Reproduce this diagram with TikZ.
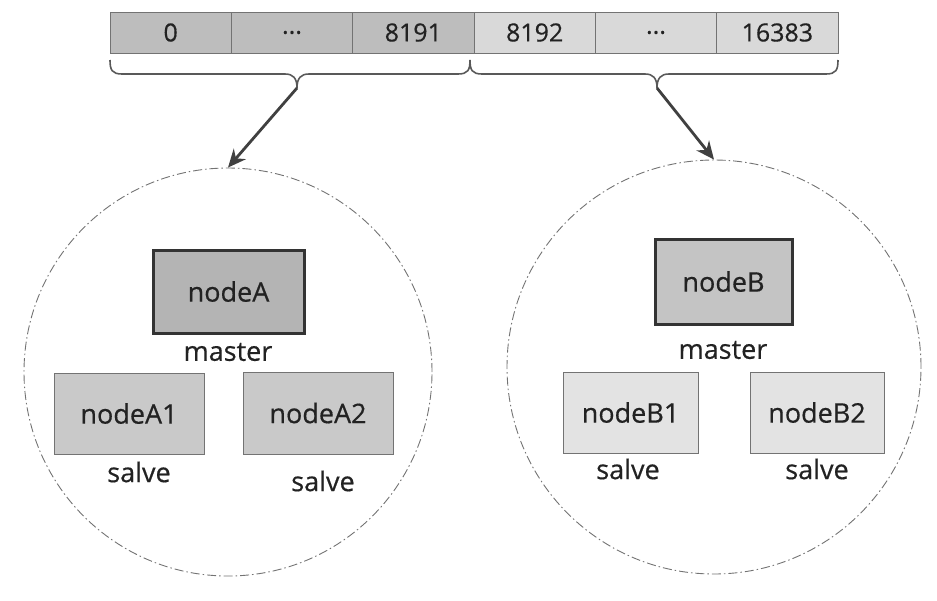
\documentclass[tikz,border=0pt]{standalone}
\usepackage{fontspec}
\setmainfont{Open Sans}
\newfontfamily\lblfont{Open Sans}[FakeBold=0.5]
\usetikzlibrary{arrows.meta}
\definecolor{txt}{HTML}{222222}
\definecolor{cellL}{HTML}{BDBDBD}
\definecolor{cellR}{HTML}{D9D9D9}
\definecolor{mfill}{HTML}{B4B4B4}
\definecolor{mfillB}{HTML}{C4C4C4}
\definecolor{sfillA}{HTML}{C9C9C9}
\definecolor{sfillB}{HTML}{E3E3E3}
\tikzset{
  cell/.style={draw=black!55, line width=0.8pt, minimum width=121.33pt, minimum height=41pt, inner sep=0pt, outer sep=0pt, font=\lblfont\fontsize{25}{27}\selectfont, text=txt},
  masterbox/.style={draw=black!80, line width=3pt, inner sep=0pt, text=txt, font=\lblfont\fontsize{27}{29}\selectfont},
  slavebox/.style={draw=black!55, line width=0.9pt, inner sep=0pt, text=txt, font=\lblfont\fontsize{27}{29}\selectfont},
  lbl/.style={text=txt, font=\lblfont\fontsize{27}{29}\selectfont, inner sep=0pt},
  bracestyle/.style={draw=black!65, line width=1.6pt},
  grp/.style={circle, draw=black!55, line width=0.9pt, dash pattern=on 9pt off 3pt on 1.5pt off 3pt, minimum size=408pt, inner sep=0pt},
  bigarrow/.style={draw=black!75, line width=2.8pt, -{Stealth[length=18pt,width=16pt]}}
}
\begin{document}
\begin{tikzpicture}[x=1pt,y=-1pt]
\useasboundingbox (0,0) rectangle (937,600);
% slot bar
\node[cell, fill=cellL] (c1) at (170.67,32.5) {0};
\node[cell, fill=cellL] (c2) at (292,32.5) {...};
\node[cell, fill=cellL] (c3) at (413.33,32.5) {8191};
\node[cell, fill=cellR] (c4) at (534.67,32.5) {8192};
\node[cell, fill=cellR] (c5) at (656,32.5) {...};
\node[cell, fill=cellR] (c6) at (777.33,32.5) {16383};
% braces
\coordinate (tipL) at (297,88);
\coordinate (tipR) at (657,88);
\draw[bracestyle] (110,60) .. controls (110,70) and (112,74) .. (122,74) -- (285,74)
  .. controls (293,74) and (297,78) .. (tipL)
  .. controls (297,78) and (301,74) .. (309,74) -- (458,74)
  .. controls (468,74) and (470,70) .. (470,60);
\draw[bracestyle] (470,60) .. controls (470,70) and (472,74) .. (482,74) -- (645,74)
  .. controls (653,74) and (657,78) .. (tipR)
  .. controls (657,78) and (661,74) .. (669,74) -- (826,74)
  .. controls (836,74) and (838,70) .. (838,60);
% groups
\node[grp] (gA) at (228,372) {};
\node[grp, minimum size=414pt] (gB) at (714,367) {};
\draw[bigarrow] (tipL) -- (gA.north);
\draw[bigarrow] (tipR) -- (gB.north);
% group A
\node[masterbox, fill=mfill, minimum width=151pt, minimum height=83pt] (nA) at (228.5,291.5) {nodeA};
\node[lbl] (mA) at (228,352) {master};
\node[slavebox, fill=sfillA, minimum width=150pt, minimum height=81pt] (nA1) at (129,413.5) {nodeA1};
\node[slavebox, fill=sfillA, minimum width=150pt, minimum height=82pt] (nA2) at (318,413) {nodeA2};
\node[lbl] (sA1) at (139,472) {salve};
\node[lbl] (sA2) at (323,481) {salve};
% group B
\node[masterbox, fill=mfillB, minimum width=137pt, minimum height=85pt] (nB) at (723.5,281.5) {nodeB};
\node[lbl] (mB) at (723,350) {master};
\node[slavebox, fill=sfillB, minimum width=135pt, minimum height=81pt] (nB1) at (630.5,412.5) {nodeB1};
\node[slavebox, fill=sfillB, minimum width=134pt, minimum height=81pt] (nB2) at (817,412.5) {nodeB2};
\node[lbl] (sB1) at (628,469) {salve};
\node[lbl] (sB2) at (817,469) {salve};
\end{tikzpicture}
\end{document}
